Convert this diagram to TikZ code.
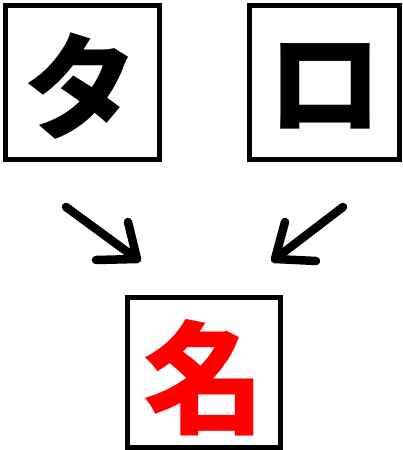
\documentclass[tikz,border=0pt]{standalone}
\usepackage{fontspec}
\newfontfamily\cjk{Noto Sans CJK JP}
\begin{document}
\begin{tikzpicture}[x=1pt,y=-1pt,
  box/.style={draw=black,line width=5pt,fill=white},
  glyph/.style={font=\cjk\bfseries\fontsize{115}{115}\selectfont,inner sep=0pt,anchor=center},
  arr/.style={line width=8.5pt,line cap=round,line join=round}]
\useasboundingbox (0,0) rectangle (402,450);
\draw[box] (5.5,5.5) rectangle (159.5,159.5);
\draw[box] (249.5,5.5) rectangle (399.5,159.5);
\draw[box] (127.5,297.5) rectangle (280.5,447.5);
\node[glyph] (ta) at (81,86) {タ};
\node[glyph] (ro) at (325,86) {ロ};
\node[glyph,font=\cjk\bfseries\fontsize{122}{122}\selectfont,text={rgb,255:red,255;green,0;blue,0}] (na) at (204,378) {名};
\coordinate (lt) at (66,207);
\coordinate (lh) at (137,259);
\coordinate (la1) at (128,222);
\coordinate (la2) at (96,260);
\coordinate (rt) at (343,207);
\coordinate (rh) at (275,259);
\coordinate (ra1) at (285,222);
\coordinate (ra2) at (316,261);
\draw[arr] (lt) -- (lh);
\draw[arr] (la1) -- (lh) -- (la2);
\draw[arr] (rt) -- (rh);
\draw[arr] (ra1) -- (rh) -- (ra2);
\end{tikzpicture}
\end{document}
